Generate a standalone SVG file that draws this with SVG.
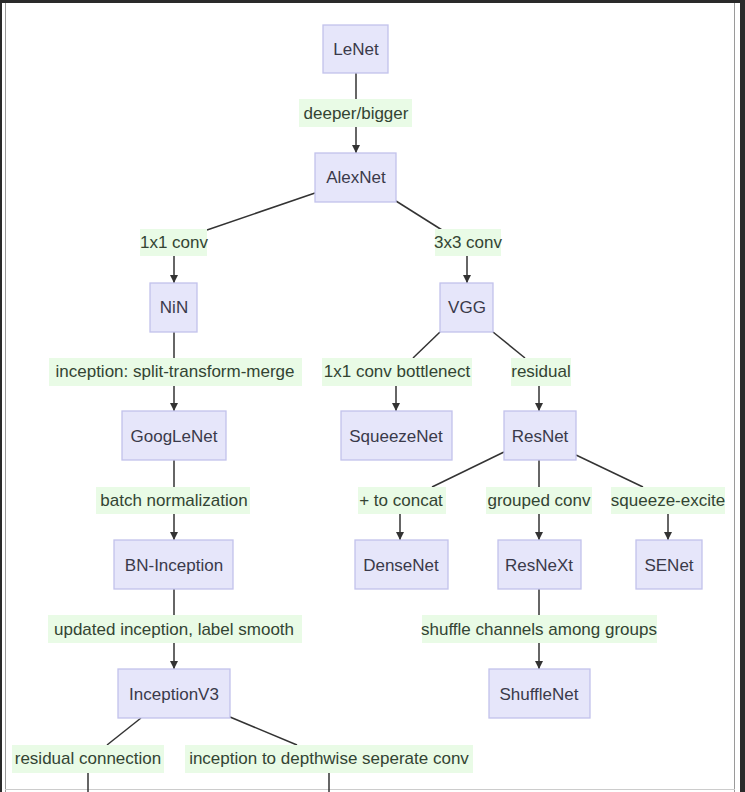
<svg xmlns="http://www.w3.org/2000/svg" width="745" height="792" viewBox="0 0 745 792">
<defs>
<style>
.node rect{fill:#e6e6fa;stroke:#c2c2ec;stroke-width:1.3}
.node text{font-family:"Liberation Sans",Arial,sans-serif;font-size:17px;fill:#3a3a4a;text-anchor:middle;dominant-baseline:central}
.lbl rect{fill:#e9fbe6;stroke:none}
.lbl text{font-family:"Liberation Sans",Arial,sans-serif;font-size:17px;fill:#334433;text-anchor:middle;dominant-baseline:central}
.edges path{fill:none;stroke:#333;stroke-width:1.5}
.edges path.a{marker-end:url(#arr)}
</style>
<marker id="arr" viewBox="0 0 10 10" refX="10" refY="5" markerWidth="8" markerHeight="8" markerUnits="userSpaceOnUse" orient="auto">
<path d="M0,0 L10,5 L0,10 z" fill="#333"/>
</marker>
</defs>
<rect x="0" y="0" width="745" height="792" fill="#fff"/>
<rect x="0" y="0" width="745" height="3" fill="#2a2a2a"/>
<rect x="0" y="0" width="2" height="792" fill="#2a2a2a"/>
<rect x="740" y="0" width="5" height="792" fill="#2a2a2a"/>
<line x1="5.5" y1="3" x2="5.5" y2="792" stroke="#9a9a9a" stroke-width="1"/>
<line x1="734.5" y1="3" x2="734.5" y2="792" stroke="#9a9a9a" stroke-width="1"/>
<line x1="5" y1="789.5" x2="735" y2="789.5" stroke="#ccc" stroke-width="1"/>

<g class="edges">
<path d="M356,73 V99"/>
<path class="a" d="M356,127 V153"/>
<path d="M315,193 L207,230"/>
<path class="a" d="M174,256 V283"/>
<path d="M396,201 L442,230"/>
<path class="a" d="M467,256 V283"/>
<path d="M174,332 V358"/>
<path class="a" d="M174,386 V411"/>
<path d="M440,332 L413,358"/>
<path class="a" d="M396,386 V411"/>
<path d="M493,332 L525,358"/>
<path class="a" d="M539,386 V411"/>
<path d="M504,452 L432,487"/>
<path class="a" d="M400,514 V540"/>
<path d="M539,460 V487"/>
<path class="a" d="M539,514 V540"/>
<path d="M576,455 L643,487"/>
<path class="a" d="M668,514 V540"/>
<path d="M174,460 V487"/>
<path class="a" d="M174,514 V540"/>
<path d="M174,589 V615"/>
<path class="a" d="M174,643 V669"/>
<path d="M539,589 V615"/>
<path class="a" d="M539,643 V669"/>
<path d="M141,718 L107,745"/>
<path d="M88,773 V792"/>
<path d="M230,717 L297,745"/>
<path d="M329,773 V792"/>
</g>

<g class="lbl" id="l1"><rect x="299" y="99" width="113" height="28"/><text x="356" y="113">deeper/bigger</text></g>
<g class="lbl" id="l2"><rect x="140" y="229" width="67" height="27"/><text x="174" y="242">1x1 conv</text></g>
<g class="lbl" id="l3"><rect x="435" y="229" width="66" height="27"/><text x="468" y="242">3x3 conv</text></g>
<g class="lbl" id="l4"><rect x="49" y="358" width="253" height="28"/><text x="175" y="371">inception: split-transform-merge</text></g>
<g class="lbl" id="l5"><rect x="322" y="358" width="150" height="28"/><text x="397" y="371">1x1 conv bottlenect</text></g>
<g class="lbl" id="l6"><rect x="511" y="358" width="60" height="28"/><text x="541" y="371">residual</text></g>
<g class="lbl" id="l7"><rect x="96" y="487" width="154" height="27"/><text x="174" y="500">batch normalization</text></g>
<g class="lbl" id="l8"><rect x="358" y="487" width="88" height="27"/><text x="401" y="500">+ to concat</text></g>
<g class="lbl" id="l9"><rect x="486" y="487" width="106" height="27"/><text x="539" y="500">grouped conv</text></g>
<g class="lbl" id="l10"><rect x="611" y="487" width="114" height="27"/><text x="668" y="500">squeeze-excite</text></g>
<g class="lbl" id="l11"><rect x="48" y="615" width="254" height="28"/><text x="174" y="629">updated inception, label smooth</text></g>
<g class="lbl" id="l12"><rect x="422" y="615" width="235" height="28"/><text x="539" y="629">shuffle channels among groups</text></g>
<g class="lbl" id="l13"><rect x="12" y="745" width="152" height="28"/><text x="88" y="758">residual connection</text></g>
<g class="lbl" id="l14"><rect x="185" y="745" width="288" height="28"/><text x="329" y="758">inception to depthwise seperate conv</text></g>

<g class="node" id="LeNet"><rect x="323" y="25" width="65" height="48"/><text x="356" y="49">LeNet</text></g>
<g class="node" id="AlexNet"><rect x="315" y="153" width="81" height="49"/><text x="356" y="177">AlexNet</text></g>
<g class="node" id="NiN"><rect x="150" y="283" width="47" height="49"/><text x="174" y="307">NiN</text></g>
<g class="node" id="VGG"><rect x="440" y="283" width="53" height="49"/><text x="467" y="307">VGG</text></g>
<g class="node" id="GoogLeNet"><rect x="122" y="411" width="104" height="49"/><text x="174" y="436">GoogLeNet</text></g>
<g class="node" id="SqueezeNet"><rect x="341" y="411" width="111" height="49"/><text x="396" y="436">SqueezeNet</text></g>
<g class="node" id="ResNet"><rect x="504" y="411" width="72" height="49"/><text x="540" y="436">ResNet</text></g>
<g class="node" id="BNInception"><rect x="114" y="540" width="119" height="49"/><text x="174" y="565">BN-Inception</text></g>
<g class="node" id="DenseNet"><rect x="355" y="540" width="93" height="49"/><text x="401" y="565">DenseNet</text></g>
<g class="node" id="ResNeXt"><rect x="498" y="540" width="83" height="49"/><text x="539" y="565">ResNeXt</text></g>
<g class="node" id="SENet"><rect x="636" y="540" width="66" height="49"/><text x="669" y="565">SENet</text></g>
<g class="node" id="InceptionV3"><rect x="118" y="669" width="112" height="49"/><text x="174" y="694">InceptionV3</text></g>
<g class="node" id="ShuffleNet"><rect x="489" y="669" width="101" height="49"/><text x="539" y="694">ShuffleNet</text></g>
</svg>
